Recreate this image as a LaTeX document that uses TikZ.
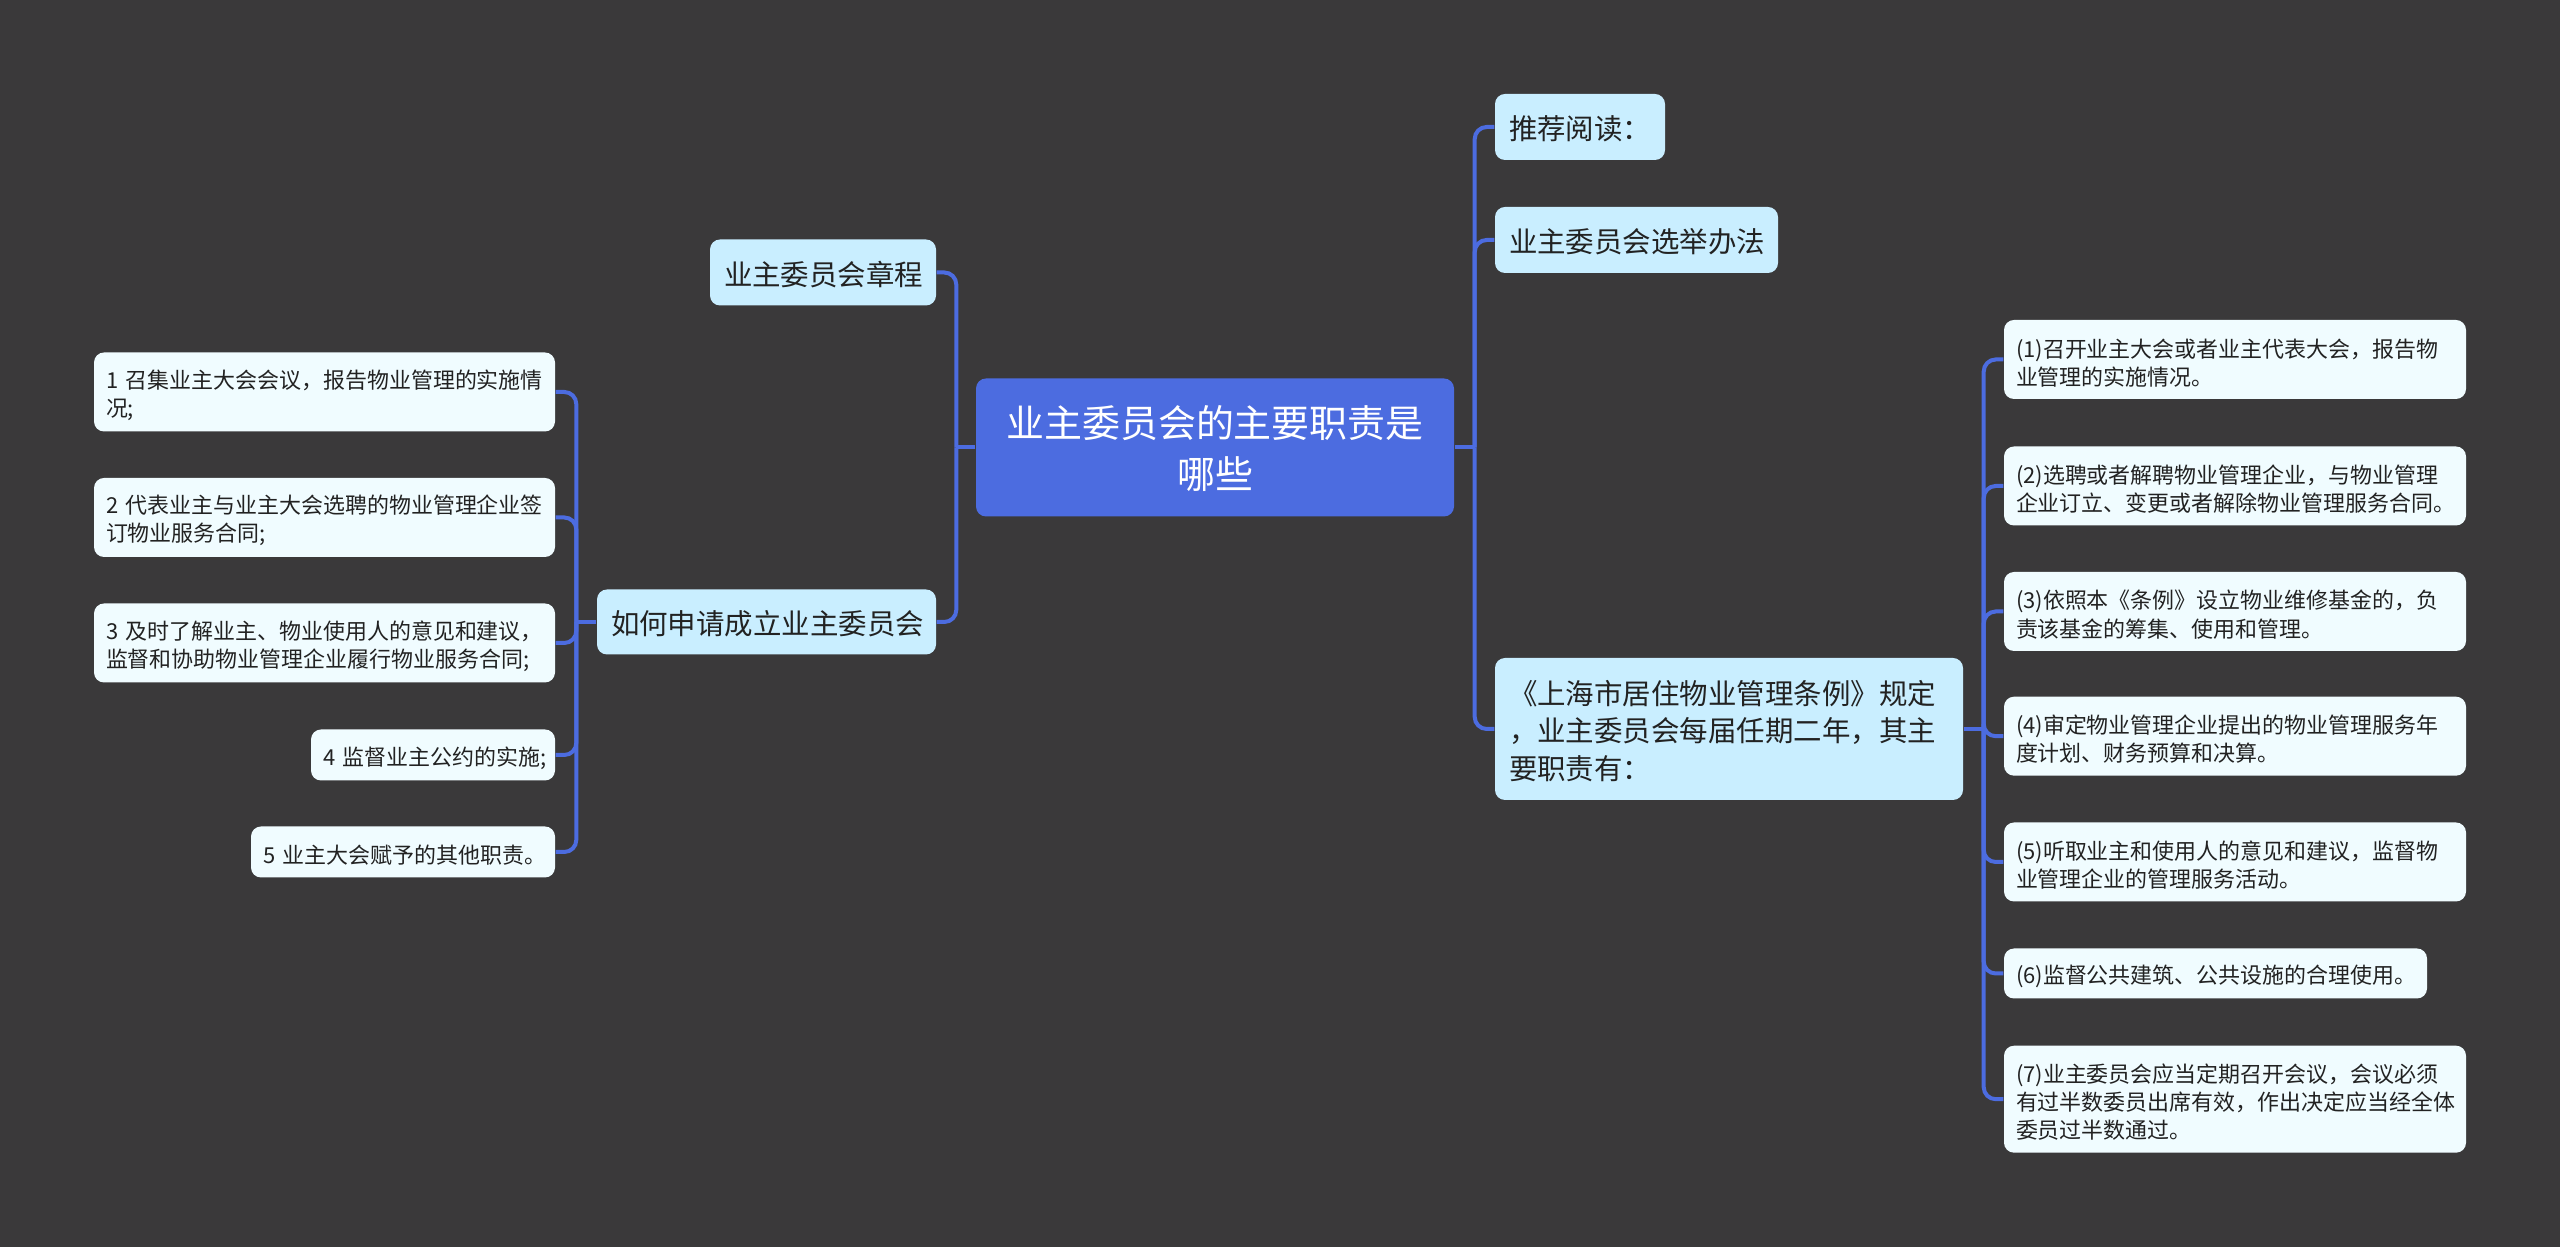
\documentclass[tikz,border=0pt]{standalone}
\usepackage{xcolor}
\usepackage{fontspec}
\setmainfont{Noto Sans CJK SC}
\definecolor{bgdark}{HTML}{3A393A}
\definecolor{rootblue}{HTML}{4C6CE0}
\definecolor{linkblue}{HTML}{4C6CE0}
\definecolor{branchblue}{HTML}{C9EEFF}
\definecolor{leafblue}{HTML}{F0FCFF}
\definecolor{inkdark}{HTML}{222222}
\tikzset{
  rootbox/.style 2 args={fill=rootblue,text=white,rounded corners=.1cm,align=center,text width=#1cm-.3cm,text height=.34cm,inner xsep=.15cm,inner ysep=0pt,minimum height=#2cm,font=\fontsize{10.8pt}{14.5pt}\selectfont},
  branchbox/.style 2 args={fill=branchblue,text=inkdark,rounded corners=.1cm,align=left,text width=#1cm-.28cm,text height=.28cm,inner xsep=.14cm,inner ysep=0pt,minimum height=#2cm,font=\fontsize{8.1pt}{10.67pt}\selectfont},
  leafbox/.style 2 args={fill=leafblue,text=inkdark,rounded corners=.1cm,align=left,text width=#1cm-.24cm,text height=.25cm,inner xsep=.12cm,inner ysep=0pt,minimum height=#2cm,font=\fontsize{6.25pt}{8pt}\selectfont},
  link/.style={draw=linkblue,line width=.04cm,rounded corners=.12cm}
}
\begin{document}
\begin{tikzpicture}
\fill[bgdark](0,0)rectangle(25.6,12.47);
\useasboundingbox(0,0)rectangle(25.6,12.47);
\node[rootbox={4.78}{1.38}](root)at(12.15,7.995){业主委员会的主要职责是\\哪些};
% left side
\node[branchbox={2.26}{.66}](charter)at(8.23,9.745){业主委员会章程};
\node[branchbox={3.39}{.65}](apply)at(7.665,6.25){如何申请成立业主委员会};
\node[leafbox={4.61}{.79}](duty1)at(3.245,8.55){1~召集业主大会会议，报告物业管理的实施情\\况;};
\node[leafbox={4.61}{.79}](duty2)at(3.245,7.295){2~代表业主与业主大会选聘的物业管理企业签\\订物业服务合同;};
\node[leafbox={4.61}{.79}](duty3)at(3.245,6.04){3~及时了解业主、物业使用人的意见和建议，\\监督和协助物业管理企业履行物业服务合同;};
\node[leafbox={2.44}{.51}](duty4)at(4.33,4.92){4~监督业主公约的实施;};
\node[leafbox={3.04}{.51}](duty5)at(4.03,3.95){5~业主大会赋予的其他职责。};
% right side
\node[branchbox={1.70}{.66}](reading)at(15.80,11.20){推荐阅读：};
\node[branchbox={2.83}{.66}](election)at(16.365,10.07){业主委员会选举办法};
\node[branchbox={4.68}{1.42}](rule)at(17.29,5.18){《上海市居住物业管理条例》规定\\，业主委员会每届任期二年，其主\\要职责有：};
\node[leafbox={4.62}{.79}](item1)at(22.35,8.875){(1)召开业主大会或者业主代表大会，报告物\\业管理的实施情况。};
\node[leafbox={4.62}{.79}](item2)at(22.35,7.61){(2)选聘或者解聘物业管理企业，与物业管理\\企业订立、变更或者解除物业管理服务合同。};
\node[leafbox={4.62}{.79}](item3)at(22.35,6.355){(3)依照本《条例》设立物业维修基金的，负\\责该基金的筹集、使用和管理。};
\node[leafbox={4.62}{.79}](item4)at(22.35,5.108){(4)审定物业管理企业提出的物业管理服务年\\度计划、财务预算和决算。};
\node[leafbox={4.62}{.79}](item5)at(22.35,3.85){(5)听取业主和使用人的意见和建议，监督物\\业管理企业的管理服务活动。};
\node[leafbox={4.23}{.50}](item6)at(22.155,2.735){(6)监督公共建筑、公共设施的合理使用。};
\node[leafbox={4.62}{1.07}](item7)at(22.35,1.478){(7)业主委员会应当定期召开会议，会议必须\\有过半数委员出席有效，作出决定应当经全体\\委员过半数通过。};
% links
\coordinate(rootleft)at([xshift=-.19cm]root.west);
\coordinate(rootright)at([xshift=.2cm]root.east);
\coordinate(applyleft)at([xshift=-.2cm]apply.west);
\coordinate(ruleright)at([xshift=.2cm]rule.east);
\draw[link](root.west)--(rootleft);
\draw[link](root.east)--(rootright);
\draw[link](apply.west)--(applyleft);
\draw[link](rule.east)--(ruleright);
\foreach\n in{charter,apply}\draw[link](rootleft)|-(\n.east);
\foreach\n in{reading,election,rule}\draw[link](rootright)|-(\n.west);
\foreach\n in{1,...,5}\draw[link](applyleft)|-(duty\n.east);
\foreach\n in{1,...,7}\draw[link](ruleright)|-(item\n.west);
\end{tikzpicture}
\end{document}
